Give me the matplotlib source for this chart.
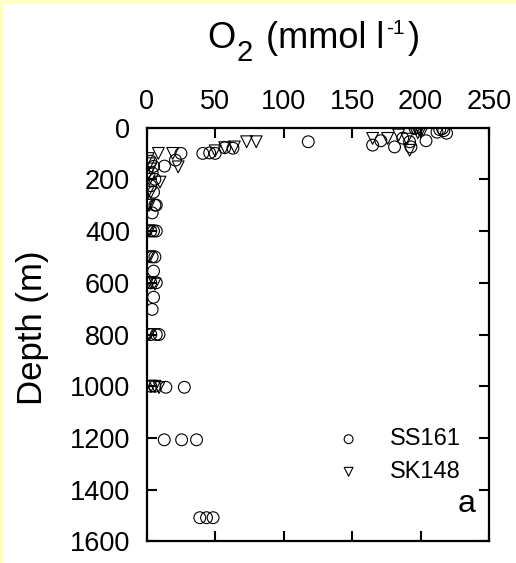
import matplotlib
matplotlib.use('Agg')
import matplotlib.pyplot as plt
from matplotlib.patches import Rectangle

plt.rcParams['font.family'] = ['Liberation Sans', 'DejaVu Sans']

# SS161 cruise (circles): O2 in mmol/l, depth in m
ss_o2 = [214, 216, 212, 219, 217, 196, 204, 192, 187, 193, 181, 171, 165, 118,
         63, 57, 50, 41, 46, 25, 21, 13,
         3, 5, 4, 6, 3, 5, 7, 4, 6, 3, 5, 7, 4, 6, 5, 3, 7, 5, 4,
         3, 7, 9, 3, 6, 14, 27.5, 12.8, 25.5, 36.4, 38.8, 43.7, 48.5]
ss_depth = [8, 4, 18, 22, 12, 3, 51, 55, 41, 75, 75, 51, 68, 55,
            80, 78, 100, 100, 98, 100, 126, 149,
            130, 150, 175, 200, 225, 250, 300, 330, 300, 400, 400, 400, 500, 500, 555, 600, 600, 656, 703,
            800, 800, 800, 1000, 1000, 1004, 1004, 1207, 1207, 1207, 1508, 1508, 1508]

# SK148 cruise (triangles)
sk_o2 = [197, 199, 200, 198, 195, 202, 165, 176, 184, 192, 190, 73, 80, 64, 57, 50,
         8.5, 19, 23, 9.7,
         1, 2, 3, 1, 2, 1, 3, 1, 2, 1, 2, 1, 2, 1, 3, 6, 1, 2, 3, 6, 9]
sk_depth = [3, 8, 15, 20, 5, 10, 42, 42, 29, 88, 45, 55, 55, 75, 78, 90,
            100, 100, 152, 211,
            120, 140, 160, 180, 200, 250, 250, 300, 300, 400, 400, 500, 500, 600, 600, 605, 800, 800, 1000, 1000, 1005]

xticks = [0, 50, 100, 150, 200, 250]
yticks = [0, 200, 400, 600, 800, 1000, 1200, 1400, 1600]

W, H = 516, 563
fig = plt.figure(figsize=(W / 100, H / 100), dpi=100)
fig.patch.set_facecolor('white')
# pale yellow frame on the top and left edges
fig.add_artist(Rectangle((0, 1 - 4 / H), 1, 4 / H, transform=fig.transFigure,
                         facecolor='#ffffc4', edgecolor='none', zorder=10))
fig.add_artist(Rectangle((0, 0), 3 / W, 1, transform=fig.transFigure,
                         facecolor='#ffffc4', edgecolor='none', zorder=10))

ax = fig.add_axes([0.2843, 0.0382, 0.6634, 0.7353])
ax.scatter(ss_o2, ss_depth, s=72, marker='o', facecolors='none', edgecolors='black',
           linewidths=0.8, label='SS161', zorder=3)
ax.scatter(sk_o2, sk_depth, s=72, marker='v', facecolors='none', edgecolors='black',
           linewidths=0.8, label='SK148', zorder=3)

ax.set_xlim(0, 250)
ax.set_ylim(1600, 0)
ax.set_xticks(xticks)
ax.set_yticks(yticks)
ax.xaxis.tick_top()
ax.tick_params(axis='both', which='both', direction='in', length=7, width=1.5,
               labelsize=19.5, top=True, bottom=True, left=True, right=True,
               labeltop=True, labelbottom=False)
ax.tick_params(axis='x', pad=9)
ax.tick_params(axis='y', pad=12)
for sp in ax.spines.values():
    sp.set_linewidth(1.6)

ax.set_ylabel('Depth (m)', fontsize=25)
ax.yaxis.set_label_coords(-0.285, 0.516)

# axis title on top, drawn piece by piece so the subscript can stay large
pieces = [('O', 26, 0, 1), ('2', 21, -13, 14), ('(mmol l', 26, 0, 1),
          ('-1', 15, 14, 4), (')', 26, 0, 0)]
renderer = fig.canvas.get_renderer()
xpix, base = 207, H - 48
for s, size, dy, gap in pieces:
    t = fig.text(xpix / W, (base + dy) / H, s, fontsize=size, ha='left', va='baseline')
    xpix += t.get_window_extent(renderer).width + gap

leg = ax.legend(loc='lower right', bbox_to_anchor=(0.98, 0.09), frameon=False,
                fontsize=17, handletextpad=1.0, labelspacing=0.45, markerscale=0.75,
                handlelength=1.5)
ax.text(0.96, 0.055, 'a', transform=ax.transAxes, fontsize=23, ha='right', va='bottom')

fig.savefig('out.png', dpi=100)
